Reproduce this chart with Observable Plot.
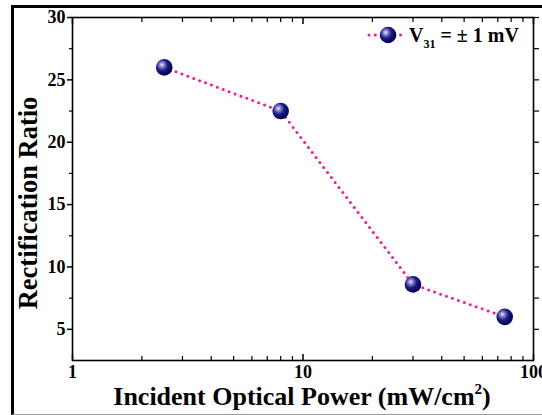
<!DOCTYPE html>
<html>
<head>
<meta charset="utf-8">
<script src="https://cdn.jsdelivr.net/npm/d3@7"></script>
<script src="https://cdn.jsdelivr.net/npm/@observablehq/plot@0.6"></script>
<style>
  html, body { margin: 0; padding: 0; background: #fff; }
  #wrap { position: relative; width: 542px; height: 415px; overflow: hidden; }
  #border { position: absolute; left: 11px; top: 5px; width: 600px; height: 406px;
            border-left: 3px solid #000; border-top: 3px solid #000; border-bottom: 1.5px solid #999; }
  #chart { position: absolute; left: 0; top: 0; }
</style>
</head>
<body>
<div id="wrap"><div id="border"></div><div id="chart"></div></div>
<script>
// Data
const power = [2.5, 8, 30, 75];          // mW/cm^2
const ratio = [26, 22.5, 8.6, 6];        // rectification ratio
const yMajor = [5, 10, 15, 20, 25, 30];
const yMinor = [7.5, 12.5, 17.5, 22.5, 27.5];
const yAll = [5, 7.5, 10, 12.5, 15, 17.5, 20, 22.5, 25, 27.5, 30];
const xMajor = [1, 10, 100];
const xMinor = [2, 3, 4, 5, 6, 7, 8, 9, 20, 30, 40, 50, 60, 70, 80, 90];

const data = power.map((p, i) => ({power: p, ratio: ratio[i]}));
const font = "'Liberation Serif', 'Times New Roman', serif";
const pink = "#ff1493";
const blank = () => "";

const chart = Plot.plot({
  width: 542,
  height: 415,
  marginLeft: 72,
  marginRight: 9,
  marginTop: 17,
  marginBottom: 55,
  style: {fontFamily: font, background: "transparent", color: "#000"},
  x: {type: "log", domain: [1, 100]},
  y: {domain: [2.5, 30]},
  marks: [
    Plot.frame({stroke: "#000", strokeWidth: 1.6}),
    Plot.axisY({anchor: "left", ticks: yMajor, tickSize: 5, tickPadding: 2, tickFormat: d => d,
                label: null, fontSize: 18, fontWeight: "bold", strokeWidth: 1.5}),
    Plot.axisY({anchor: "left", ticks: yMinor, tickSize: 3, tickFormat: blank, label: null, strokeWidth: 1.2}),
    Plot.axisY({anchor: "right", ticks: yAll, tickSize: 5, tickFormat: blank, label: null, strokeWidth: 1.2}),
    Plot.axisX({anchor: "bottom", ticks: xMajor, tickSize: 0, tickPadding: 5, tickFormat: d => d,
                label: null, fontSize: 18, fontWeight: "bold"}),
    Plot.axisX({anchor: "bottom", ticks: xMajor, tickSize: -6, tickFormat: blank, label: null, strokeWidth: 1.5}),
    Plot.axisX({anchor: "bottom", ticks: xMinor, tickSize: -4, tickFormat: blank, label: null, strokeWidth: 1.2}),
    Plot.axisX({anchor: "top", ticks: xMajor, tickSize: -6, tickFormat: blank, label: null, strokeWidth: 1.5}),
    Plot.axisX({anchor: "top", ticks: xMinor, tickSize: -4, tickFormat: blank, label: null, strokeWidth: 1.2}),
    Plot.line(data, {x: "power", y: "ratio", stroke: pink, strokeWidth: 3,
                     strokeDasharray: "0 6.3", strokeLinecap: "round"}),
    Plot.dot(data, {x: "power", y: "ratio", r: 8.3, fill: "url(#sphere)", stroke: "none"})
  ]
});

const svg = d3.select(chart);
const defs = svg.insert("defs", ":first-child");
const g = defs.append("radialGradient").attr("id", "sphere")
  .attr("cx", "0.38").attr("cy", "0.38").attr("r", "0.62").attr("fx", "0.36").attr("fy", "0.34");
g.append("stop").attr("offset", "0%").attr("stop-color", "#f0f0ff");
g.append("stop").attr("offset", "22%").attr("stop-color", "#8a8ac8");
g.append("stop").attr("offset", "55%").attr("stop-color", "#1a1a8c");
g.append("stop").attr("offset", "100%").attr("stop-color", "#00004a");

// Axis titles
const xt = svg.append("text").attr("x", 302).attr("y", 405).attr("text-anchor", "middle")
  .attr("font-family", font).attr("font-weight", "bold").attr("font-size", 26).attr("fill", "#000");
xt.append("tspan").text("Incident Optical Power (mW/cm");
xt.append("tspan").attr("font-size", 15).attr("dy", -11).text("2");
xt.append("tspan").attr("dy", 11).text(")");

svg.append("text").attr("transform", "translate(37,203) rotate(-90)").attr("text-anchor", "middle")
  .attr("font-family", font).attr("font-weight", "bold").attr("font-size", 26.5).attr("fill", "#000")
  .text("Rectification Ratio");

// Legend
const lg = svg.append("g");
lg.append("line").attr("x1", 369).attr("x2", 404).attr("y1", 35).attr("y2", 35)
  .attr("stroke", pink).attr("stroke-width", 3).attr("stroke-dasharray", "0 6.3").attr("stroke-linecap", "round");
lg.append("circle").attr("cx", 388).attr("cy", 35).attr("r", 8.3).attr("fill", "url(#sphere)");
const lt = lg.append("text").attr("x", 409).attr("y", 42).attr("text-anchor", "start")
  .attr("font-family", font).attr("font-weight", "bold").attr("font-size", 20).attr("fill", "#000");
lt.append("tspan").text("V");
lt.append("tspan").attr("font-size", 12).attr("dy", 6).text("31");
lt.append("tspan").attr("dy", -6).text(" = ± 1 mV");

document.getElementById("chart").appendChild(chart);
</script>
</body>
</html>
